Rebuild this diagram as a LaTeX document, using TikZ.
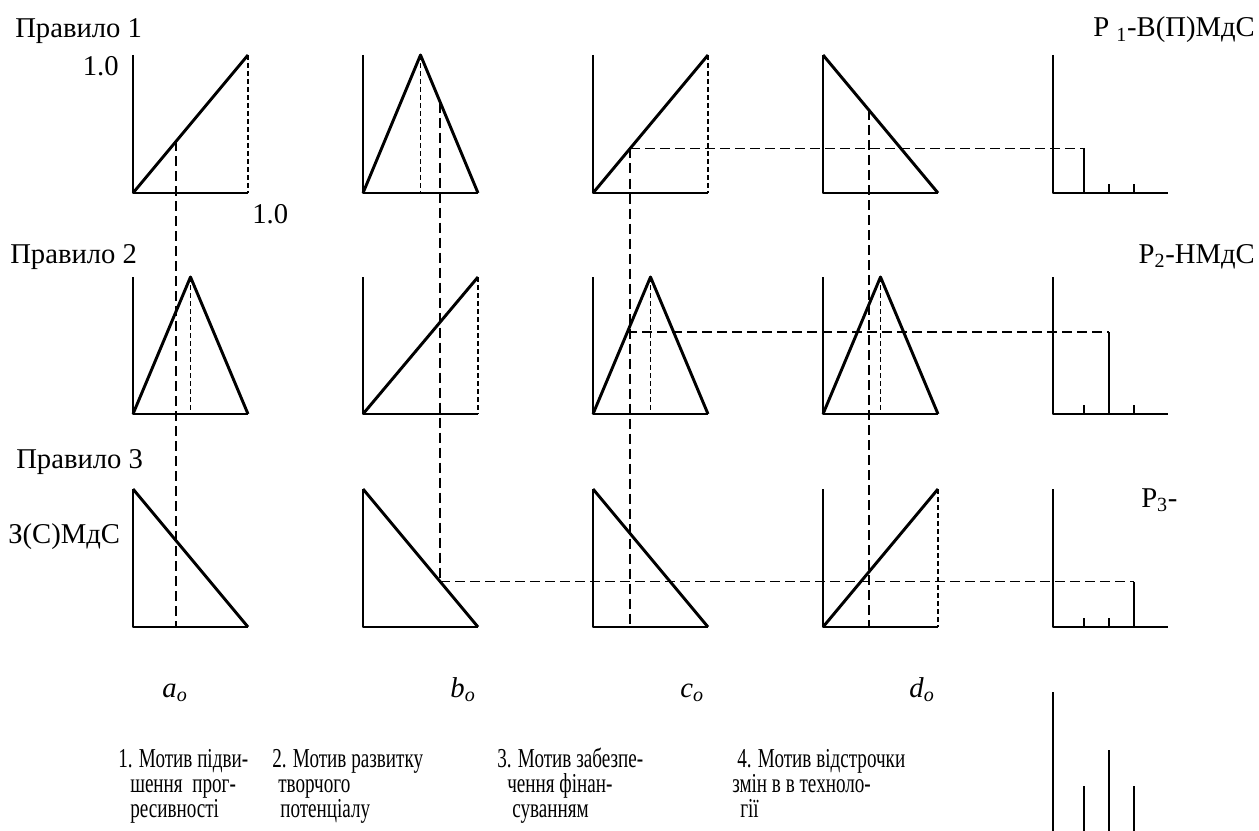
\documentclass[tikz,border=0pt]{standalone}
\usepackage{fontspec}
\setmainfont{Liberation Serif}
\newfontfamily\narrowfont[FakeStretch=0.7]{Liberation Serif}
\begin{document}
\begin{tikzpicture}[x=0.75pt,y=-0.75pt, line join=round,
  solidln/.style={line width=2.2pt},
  guide/.style={line width=1pt, dash pattern=on 7.5pt off 3.75pt},
  dotguide/.style={line width=1pt, dash pattern=on 3.6pt off 2.4pt},
  lab/.style={inner sep=0pt, font=\fontsize{21.5}{26}\selectfont},
  btxt/.style={inner sep=0pt, anchor=base west, font=\narrowfont\fontsize{20.5}{24}\selectfont}]
\useasboundingbox (0,0) rectangle (1259,831);

% ---------- membership functions ----------
% ramp up
\foreach \xo/\t/\b in {133/55/193, 593/55/193, 363/277/414, 823/489/627}{
  \draw[solidln] (\xo,\t) -- (\xo,\b) -- (\xo+115,\b);
  \draw[solidln] (\xo,\b) -- (\xo+115,\t);
  \draw[dotguide] (\xo+115,\t) -- (\xo+115,\b);
}
% triangle
\foreach \xo/\t/\b in {363/55/193, 133/277/414, 593/277/414, 823/277/414}{
  \draw[solidln] (\xo,\t) -- (\xo,\b) -- (\xo+115,\b);
  \draw[solidln] (\xo,\b) -- (\xo+57.5,\t) -- (\xo+115,\b);
  \draw[dotguide] (\xo+57.5,\t) -- (\xo+57.5,\b);
}
% ramp down
\foreach \xo/\t/\b in {823/55/193, 133/489/627, 363/489/627, 593/489/627}{
  \draw[solidln] (\xo,\t) -- (\xo,\b) -- (\xo+115,\b);
  \draw[solidln] (\xo,\t) -- (\xo+115,\b);
}

% ---------- output singletons ----------
\foreach \t/\b/\bx/\by in {55/193/1084/148, 277/414/1109/332, 489/627/1134/582}{
  \draw[solidln] (1053,\t) -- (1053,\b) -- (1168,\b);
  \foreach \tx in {1084,1109,1134}{
    \draw[solidln] (\tx,\b) -- (\tx,\b-9);
  }
  \draw[solidln] (\bx,\b) -- (\bx,\by);
}

% ---------- guide lines ----------
\coordinate (ga1) at (176,141.4);
\coordinate (ga2) at (176,627);
\draw[guide] (ga1) -- (ga2);
\coordinate (gb1) at (440,102.6);
\coordinate (gb2) at (440,581.5);
\draw[guide] (gb1) -- (gb2);
\coordinate (gc1) at (630,148.5);
\coordinate (gc2) at (630,627);
\draw[guide] (gc1) -- (gc2);
\coordinate (gd1) at (869,110);
\coordinate (gd2) at (869,627);
\draw[guide] (gd1) -- (gd2);
\coordinate (h1e) at (1084,148.5);
\draw[guide] (gc1) -- (h1e);
\coordinate (h2s) at (627,332);
\coordinate (h2e) at (1109,332);
\draw[guide] (h2s) -- (h2e);
\coordinate (h3e) at (1134,581.5);
\draw[guide] (gb2) -- (h3e);

% ---------- bottom right bars ----------
\draw[solidln] (1053,692) -- (1053,831);
\draw[solidln] (1084,786) -- (1084,831);
\draw[solidln] (1109,750) -- (1109,831);
\draw[solidln] (1134,786) -- (1134,831);

% ---------- labels ----------
\node[lab, anchor=base west] (r1) at (15,38) {Правило 1};
\node[lab, anchor=base east] (y10) at (119,76) {1.0};
\node[lab, anchor=base west] (x10) at (252,223) {1.0};
\node[lab, anchor=base west] (r2) at (10,263) {Правило 2};
\node[lab, anchor=base west] (r3) at (16,468) {Правило 3};
\node[lab, anchor=base west] (zsm) at (8,543) {З(С)МдС};
\node[lab, anchor=base east] (p1) at (1255,37) {Р \textsubscript{1}-В(П)МдС};
\node[lab, anchor=base east] (p2) at (1255,263) {Р\textsubscript{2}-НМдС};
\node[lab, anchor=base west] (p3) at (1141,507) {Р\textsubscript{3}-};

\node[lab, anchor=base] (ao) at (175,697) {\textit{a}\textsubscript{\textit{o}}};
\node[lab, anchor=base] (bo) at (463,697) {\textit{b}\textsubscript{\textit{o}}};
\node[lab, anchor=base] (co) at (692,697) {\textit{c}\textsubscript{\textit{o}}};
\node[lab, anchor=base] (do) at (922,697) {\textit{d}\textsubscript{\textit{o}}};

% ---------- bottom descriptions ----------
\node[btxt] (m1a) at (118,767) {1. Мотив підви-};
\node[btxt] (m1b) at (130,792) {шення\ \ прог-};
\node[btxt] (m1c) at (130,817) {ресивності};
\node[btxt] (m2a) at (272,767) {2. Мотив развитку};
\node[btxt] (m2b) at (278,792) {творчого};
\node[btxt] (m2c) at (280,817) {потенціалу};
\node[btxt] (m3a) at (497,767) {3. Мотив забезпе-};
\node[btxt] (m3b) at (507,792) {чення фінан-};
\node[btxt] (m3c) at (512,817) {суванням};
\node[btxt] (m4a) at (737,767) {4. Мотив відстрочки};
\node[btxt] (m4b) at (732,792) {змін в в техноло-};
\node[btxt] (m4c) at (740,817) {гії};
\end{tikzpicture}
\end{document}
